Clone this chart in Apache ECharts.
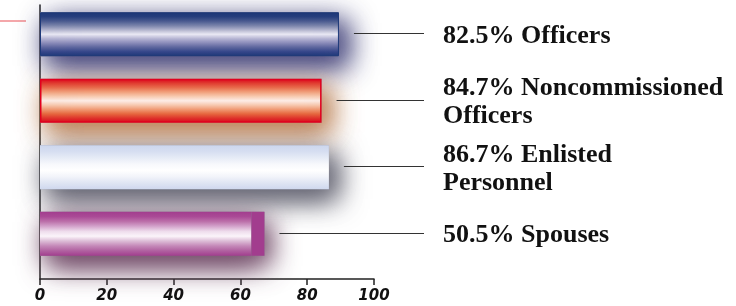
<!DOCTYPE html>
<html>
<head>
<meta charset="utf-8">
<script src="https://cdn.jsdelivr.net/npm/echarts@6/dist/echarts.min.js"></script>
<style>
  html, body { margin: 0; padding: 0; background: #fff; }
  #chart { width: 736px; height: 306px; }
</style>
</head>
<body>
<div id="chart"></div>
<script>
// groups, top to bottom
var groups = ["Officers", "Noncommissioned\nOfficers", "Enlisted\nPersonnel", "Spouses"];
var percents = ["82.5%", "84.7%", "86.7%", "50.5%"];
// bar lengths as drawn on the 0-100 axis
var barBody = [89.5, 84.3, 86.5, 63.3];
var barCap = ["-", "-", "-", 3.9];
var xTicks = [0, 20, 40, 60, 80, 100];

var barTotal = barBody.map(function (v, i) { return v + (barCap[i] === "-" ? 0 : barCap[i]); });

function grad(stops) {
  return new echarts.graphic.LinearGradient(0, 0, 0, 1, stops.map(function (c, i) {
    return { offset: i / (stops.length - 1), color: c };
  }));
}

var barFills = [
  grad(["#1c3878", "#263f7e", "#4a5b90", "#7a84ab", "#b4b6cf", "#eeedf7", "#b9b8d6", "#8c8dbb", "#5d669f", "#35468a", "#1c3878"]),
  grad(["#dc001c", "#e23a30", "#ea6a4c", "#f3a07c", "#f9cdb4", "#fff1ec", "#f9cbb2", "#f29a74", "#e8663e", "#e0302a", "#dc001c"]),
  grad(["#cdd7ee", "#d6def1", "#e6ebf6", "#f7f8fc", "#ffffff", "#f2f4fa", "#dfe5f3", "#cfd8ee"]),
  grad(["#a23d8e", "#aa4a96", "#bc70aa", "#d4a4cc", "#eedcec", "#fbf4fa", "#dcbcd6", "#c488b8", "#b060a0", "#a23d8e"])
];
var borders = [["#1c3878", 1], ["#e2001e", 1.5], [null, 0], [null, 0]];
var glows = ["rgba(70,70,125,0.85)", "rgba(185,125,80,0.8)", "rgba(90,90,105,0.8)", "rgba(110,70,100,0.85)"];

var chart = echarts.init(document.getElementById("chart"));

var option = {
  animation: false,
  grid: [
    { left: 40, right: 362, top: 1, height: 266, outerBoundsMode: "none" },
    { left: 40, right: 362, top: 5, bottom: 27, outerBoundsMode: "none" }
  ],
  xAxis: [
    { gridIndex: 0, type: "value", min: 0, max: 100, show: false },
    {
      gridIndex: 1, type: "value", min: 0, max: 100, interval: 20,
      axisLine: { show: true, lineStyle: { color: "#222", width: 1.5 } },
      axisTick: { show: true, length: 6, lineStyle: { color: "#222", width: 1.5 } },
      splitLine: { show: false },
      axisLabel: {
        margin: 10, color: "#111", fontFamily: "DejaVu Sans", fontStyle: "oblique",
        fontWeight: "bold", fontSize: 15,
        formatter: function (v) { return xTicks.indexOf(v) >= 0 ? String(v) : ""; }
      }
    }
  ],
  yAxis: [
    { gridIndex: 0, type: "category", data: groups, inverse: true, show: false },
    {
      gridIndex: 1, type: "category", data: groups, inverse: true,
      axisLine: { show: true, lineStyle: { color: "#222", width: 1.5 } },
      axisTick: { show: false }, axisLabel: { show: false }
    }
  ],
  graphic: [
    { type: "line", shape: { x1: 0, y1: 21, x2: 26, y2: 21 }, style: { stroke: "#f08a8e", lineWidth: 1.5 } }
  ],
  series: [
    {
      // soft drop shadow behind each bar
      type: "bar", xAxisIndex: 0, yAxisIndex: 0, barWidth: 44, z: 1, clip: false,
      data: barTotal.map(function (v, i) {
        return {
          value: v,
          itemStyle: { color: "#9a9aa8", shadowColor: glows[i], shadowBlur: 26, shadowOffsetX: 8, shadowOffsetY: 10 }
        };
      })
    },
    {
      type: "bar", xAxisIndex: 0, yAxisIndex: 0, stack: "b", barWidth: 44, z: 2, clip: false,
      data: barBody.map(function (v, i) {
        return {
          value: v,
          itemStyle: {
            color: barFills[i], borderColor: borders[i][0], borderWidth: borders[i][1],
            shadowColor: glows[i], shadowBlur: 30, shadowOffsetX: 8, shadowOffsetY: 10
          }
        };
      })
    },
    {
      type: "bar", xAxisIndex: 0, yAxisIndex: 0, stack: "b", barWidth: 44, z: 2, barGap: "-100%",
      itemStyle: { color: "#a23d8e" },
      data: barCap
    },
    {
      type: "custom", xAxisIndex: 0, yAxisIndex: 0, z: 5,
      data: barTotal.map(function (v, i) { return [v, i]; }),
      encode: { x: 0, y: 1 },
      renderItem: function (params, api) {
        var i = api.value(1);
        var end = api.coord([api.value(0), i]);
        var right = api.coord([100, i])[0];
        var y = Math.round(end[1]) - 0.5;
        return {
          type: "group",
          children: [
            {
              type: "line",
              shape: { x1: end[0] + 15, y1: y, x2: right + 50, y2: y },
              style: { stroke: "#333", lineWidth: 1.2 }
            },
            {
              type: "text",
              style: {
                x: right + 69, y: end[1] + 2,
                text: percents[i] + " " + groups[i],
                fill: "#111", font: "bold 26px 'Liberation Serif'",
                lineHeight: 28, verticalAlign: "middle", align: "left"
              }
            }
          ]
        };
      }
    }
  ]
};

chart.setOption(option);
</script>
</body>
</html>
